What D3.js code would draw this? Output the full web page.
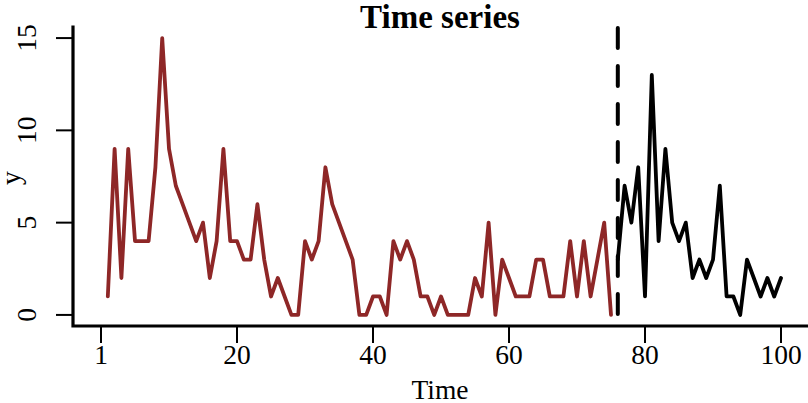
<!DOCTYPE html>
<html>
<head>
<meta charset="utf-8">
<script src="https://cdn.jsdelivr.net/npm/d3@7"></script>
<style>
  html, body { margin: 0; padding: 0; background: #fff; }
  svg { display: block; font-family: "Liberation Serif", "Times New Roman", serif; }
</style>
</head>
<body>
<svg id="chart" width="808" height="403"></svg>
<script>
// ---- data ----
const trainTime = d3.range(1, 76);           // t = 1..75
const trainValues = [1,9,2,9,4,4,4,8,15,9,7,6,5,4,5,2,4,9,4,4,
                     3,3,6,3,1,2,1,0,0,4,3,4,8,6,5,4,3,0,0,1,
                     1,0,4,3,4,3,1,1,0,1,0,0,0,0,2,1,5,0,3,2,
                     1,1,1,3,3,1,1,1,4,1,4,1,3,5,0];
const testTime = d3.range(76, 101);          // t = 76..100
const testValues = [3,7,5,8,1,13,4,9,5,4,5,2,3,2,3,7,1,1,0,3,2,1,2,1,2];
const splitTime = 76;
const xTickValues = [0, 20, 40, 60, 80, 100];
const xTickLabels = ["1", "20", "40", "60", "80", "100"];
const yTickValues = [0, 5, 10, 15];
const titleText = "Time series";
const xLabel = "Time";
const yLabel = "y";

// ---- layout ----
const svg = d3.select("#chart");
const x = d3.scaleLinear().domain([-4.12, 103.97]).range([73, 808]);
const y = d3.scaleLinear().domain([-0.6, 15.6]).range([326, 27]);

const fontSize = 27.5;
const red = "#8E2727";

// lines
const line = d3.line().x(d => x(d[0])).y(d => y(d[1]));
svg.append("path")
  .datum(trainTime.map((t, i) => [t, trainValues[i]]))
  .attr("d", line).attr("fill", "none")
  .attr("stroke", red).attr("stroke-width", 3.8)
  .attr("stroke-linejoin", "round").attr("stroke-linecap", "round");
svg.append("path")
  .datum(testTime.map((t, i) => [t, testValues[i]]))
  .attr("d", line).attr("fill", "none")
  .attr("stroke", "#000").attr("stroke-width", 3.8)
  .attr("stroke-linejoin", "round").attr("stroke-linecap", "round");

// dashed split line
svg.append("line")
  .attr("x1", x(splitTime)).attr("x2", x(splitTime))
  .attr("y1", y.range()[1] + 1).attr("y2", y.range()[0])
  .attr("stroke", "#000").attr("stroke-width", 4)
  .attr("stroke-dasharray", "20,18").attr("stroke-linecap", "round");

// axes frame (L shape)
const xr = x.range(), yr = y.range();
svg.append("path")
  .attr("d", `M${xr[0]},${yr[1]}V${yr[0]}H${xr[1]}`)
  .attr("fill", "none").attr("stroke", "#000").attr("stroke-width", 3.2)
  .attr("stroke-linecap", "square");

// x ticks
const xAx = svg.append("g");
xTickValues.forEach((v, i) => {
  xAx.append("line")
    .attr("x1", x(v)).attr("x2", x(v))
    .attr("y1", yr[0]).attr("y2", yr[0] + 17)
    .attr("stroke", "#000").attr("stroke-width", 2);
  xAx.append("text")
    .attr("x", x(v)).attr("y", yr[0] + 38)
    .attr("text-anchor", "middle")
    .attr("font-size", fontSize)
    .text(xTickLabels[i]);
});

// y ticks
const yAx = svg.append("g");
yTickValues.forEach(v => {
  yAx.append("line")
    .attr("x1", xr[0] - 17).attr("x2", xr[0])
    .attr("y1", y(v)).attr("y2", y(v))
    .attr("stroke", "#000").attr("stroke-width", 2);
  yAx.append("text")
    .attr("transform", `translate(${xr[0] - 37},${y(v)}) rotate(-90)`)
    .attr("text-anchor", "middle")
    .attr("font-size", fontSize)
    .text(v);
});

// axis titles
svg.append("text")
  .attr("x", 440).attr("y", 399)
  .attr("text-anchor", "middle").attr("font-size", fontSize)
  .text(xLabel);
svg.append("text")
  .attr("transform", `translate(20,178) rotate(-90)`)
  .attr("text-anchor", "middle").attr("font-size", fontSize)
  .text(yLabel);

// title
svg.append("text")
  .attr("x", 440).attr("y", 28)
  .attr("text-anchor", "middle").attr("font-size", 33)
  .attr("font-weight", "bold")
  .text(titleText);
</script>
</body>
</html>
